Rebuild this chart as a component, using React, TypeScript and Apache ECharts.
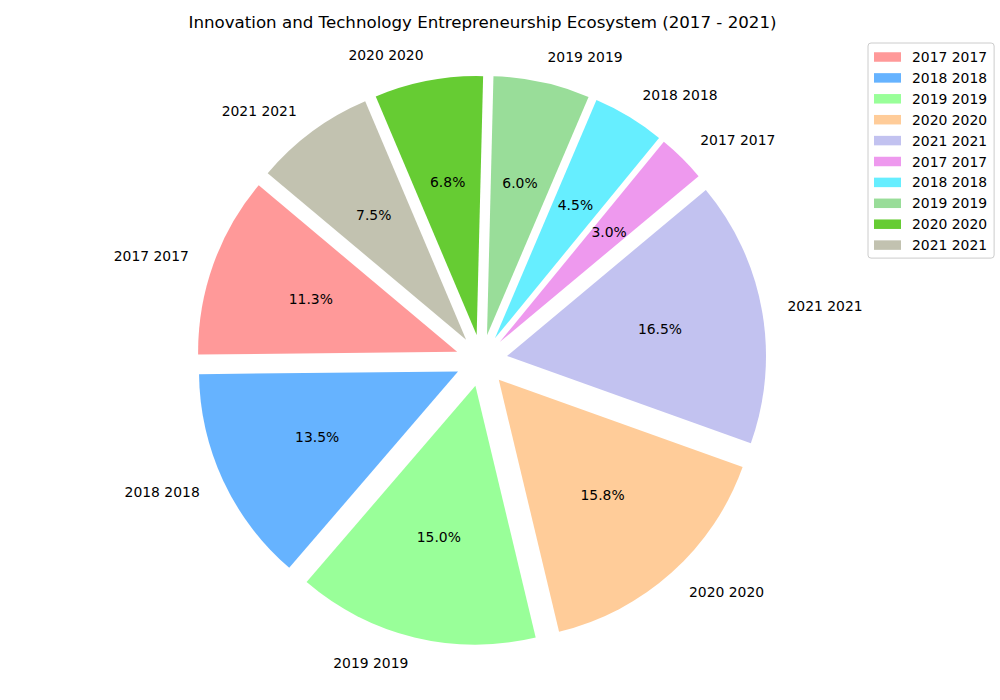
import React, { useEffect, useRef } from "react";
import * as echarts from "echarts";

const TITLE = "Innovation and Technology Entrepreneurship Ecosystem (2017 - 2021)";
const labels = [
  "2017 2017", "2018 2018", "2019 2019", "2020 2020", "2021 2021",
  "2017 2017", "2018 2018", "2019 2019", "2020 2020", "2021 2021",
];
const values = [150, 180, 200, 210, 220, 40, 60, 80, 90, 100];
const colors = [
  "#ff9999", "#66b3ff", "#99ff99", "#ffcc99", "#c2c2f0",
  "#ee99ee", "#66eeff", "#99dd99", "#66cc33", "#c2c2b0",
];

const FONT = "DejaVu Sans";
const FS = 13.9;

export default function App() {
  const ref = useRef<HTMLDivElement>(null);
  useEffect(() => {
    if (!ref.current) return;
    const chart = echarts.init(ref.current, null, { renderer: "svg" });
    const total = values.reduce((a, b) => a + b, 0);
    const keyOf = (i: number) => `${labels[i]}|${i}`;
    const strip = (n: string) => n.split("|")[0];
    const R = 259;
    const center = [481.5, 360.5];
    const mainData = values.map((v, i) => ({
      name: keyOf(i),
      value: v,
      selected: true,
      itemStyle: { color: colors[i] },
    }));
    const pctData = values.map((v, i) => ({
      name: keyOf(i) + "p",
      value: v,
      selected: true,
      itemStyle: { color: "rgba(0,0,0,0)" },
    }));
    chart.setOption({
      animation: false,
      title: {
        text: TITLE,
        left: 482.5,
        top: 14,
        textAlign: "center",
        padding: 0,
        textStyle: { fontFamily: FONT, fontSize: 16.67, fontWeight: "normal", color: "#000" },
      },
      legend: {
        orient: "vertical",
        left: 868,
        top: 43,
        data: values.map((_, i) => keyOf(i)),
        formatter: (n: string) => strip(n),
        icon: "rect",
        itemWidth: 27,
        itemHeight: 9.5,
        itemGap: 6.9,
        padding: [7, 7, 6, 6],
        backgroundColor: "rgba(255,255,255,0.8)",
        borderColor: "#cccccc",
        borderWidth: 1,
        borderRadius: 3,
        selectedMode: false,
        textStyle: { fontFamily: FONT, fontSize: FS, color: "#000", padding: [0, 0, 0, 6] },
      },
      series: [
        {
          type: "pie",
          center,
          radius: R,
          startAngle: 140,
          clockwise: false,
          avoidLabelOverlap: false,
          selectedMode: "multiple",
          selectedOffset: R * 0.1,
          silent: true,
          itemStyle: { borderWidth: 0 },
          select: { itemStyle: { borderWidth: 0 } },
          emphasis: { disabled: true },
          label: {
            show: true,
            position: "outside",
            formatter: (p: any) => strip(p.name),
            fontFamily: FONT,
            fontSize: FS,
            color: "#000",
            distanceToLabelLine: 0,
          },
          labelLine: { show: false, length: R * 0.1, length2: 0 },
          data: mainData,
        },
        {
          type: "pie",
          center,
          radius: [R * 0.2 - 6, R],
          startAngle: 140,
          clockwise: false,
          avoidLabelOverlap: false,
          selectedMode: "multiple",
          selectedOffset: R * 0.1,
          silent: true,
          itemStyle: { borderWidth: 0 },
          select: { itemStyle: { borderWidth: 0 } },
          emphasis: { disabled: true },
          label: {
            show: true,
            position: "inside",
            formatter: (p: any) => ((p.value / total) * 100).toFixed(1) + "%",
            fontFamily: FONT,
            fontSize: FS,
            color: "#000",
          },
          labelLine: { show: false },
          data: pctData,
        },
      ],
    });
    return () => chart.dispose();
  }, []);
  return (
    <div
      ref={ref}
      style={{ position: "fixed", left: 0, top: 0, width: 1000, height: 700, background: "#fff" }}
    />
  );
}
